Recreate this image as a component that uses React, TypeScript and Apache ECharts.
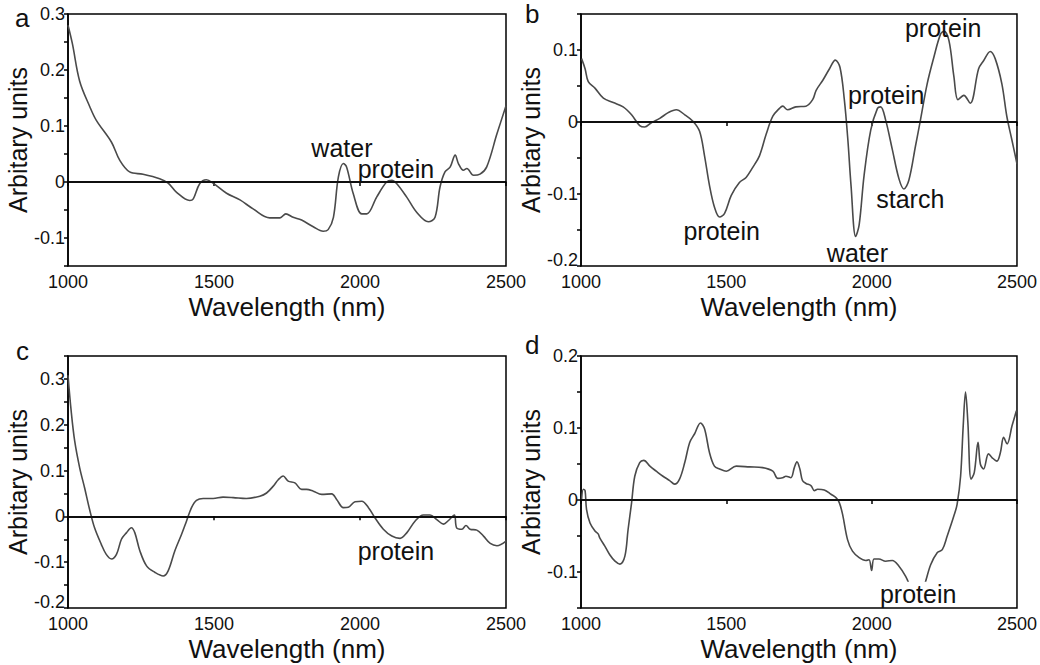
import React, { useEffect, useRef } from "react";
import * as echarts from "echarts";

// ---- Data (wavelength nm, arbitrary units) ----
const waveA = [1000, 1015, 1040, 1075, 1097, 1149, 1177, 1211, 1257, 1314, 1343, 1371, 1417, 1429, 1451, 1474, 1497, 1543, 1589, 1634, 1691, 1726, 1746, 1771, 1800, 1840, 1874, 1891, 1909, 1926, 1943, 1954, 1977, 2006, 2023, 2057, 2091, 2109, 2126, 2160, 2194, 2234, 2257, 2274, 2291, 2309, 2326, 2337, 2354, 2366, 2389, 2411, 2434, 2469, 2500];
const valA = [0.28, 0.247, 0.18, 0.134, 0.11, 0.071, 0.039, 0.018, 0.014, 0.006, -0.002, -0.018, -0.033, -0.03, -0.003, 0.004, -0.002, -0.02, -0.032, -0.048, -0.064, -0.064, -0.057, -0.063, -0.068, -0.08, -0.088, -0.085, -0.063, 0.009, 0.033, 0.027, -0.021, -0.057, -0.057, -0.027, 0, 0.003, -0.003, -0.027, -0.054, -0.071, -0.063, -0.009, 0.018, 0.027, 0.048, 0.033, 0.021, 0.024, 0.012, 0.014, 0.027, 0.086, 0.136];

const waveB = [1002, 1014, 1025, 1048, 1077, 1111, 1145, 1174, 1202, 1219, 1242, 1271, 1300, 1328, 1357, 1385, 1408, 1425, 1442, 1459, 1477, 1494, 1517, 1545, 1568, 1591, 1614, 1637, 1660, 1683, 1694, 1711, 1739, 1774, 1797, 1809, 1832, 1855, 1875, 1891, 1906, 1918, 1929, 1945, 1957, 1974, 1997, 2020, 2031, 2048, 2071, 2094, 2111, 2128, 2151, 2168, 2191, 2214, 2237, 2249, 2266, 2283, 2297, 2317, 2339, 2368, 2385, 2408, 2425, 2448, 2465, 2482, 2500];
const valB = [0.088, 0.074, 0.056, 0.047, 0.033, 0.027, 0.021, 0.01, -0.005, -0.007, -0.001, 0.005, 0.013, 0.017, 0.01, 0.001, -0.013, -0.047, -0.088, -0.118, -0.132, -0.127, -0.102, -0.084, -0.077, -0.063, -0.047, -0.017, 0.008, 0.019, 0.022, 0.017, 0.021, 0.022, 0.031, 0.044, 0.058, 0.074, 0.086, 0.076, 0.031, -0.024, -0.088, -0.159, -0.143, -0.074, -0.011, 0.019, 0.021, 0.003, -0.038, -0.079, -0.093, -0.081, -0.033, 0.003, 0.053, 0.09, 0.122, 0.126, 0.113, 0.063, 0.031, 0.037, 0.026, 0.074, 0.085, 0.098, 0.088, 0.053, 0.008, -0.024, -0.058];

const waveC = [1000, 1011, 1023, 1040, 1057, 1074, 1091, 1114, 1131, 1149, 1166, 1183, 1200, 1217, 1229, 1246, 1269, 1297, 1326, 1343, 1366, 1389, 1406, 1423, 1440, 1463, 1497, 1531, 1566, 1611, 1657, 1680, 1703, 1720, 1737, 1754, 1777, 1800, 1817, 1840, 1869, 1903, 1920, 1943, 1960, 1983, 2006, 2029, 2051, 2080, 2109, 2137, 2160, 2189, 2217, 2240, 2263, 2286, 2303, 2323, 2331, 2349, 2363, 2377, 2400, 2423, 2446, 2469, 2500];
const valC = [0.308, 0.229, 0.164, 0.106, 0.062, 0.015, -0.025, -0.061, -0.083, -0.093, -0.083, -0.05, -0.036, -0.025, -0.036, -0.075, -0.108, -0.122, -0.13, -0.119, -0.075, -0.039, -0.01, 0.019, 0.035, 0.039, 0.039, 0.042, 0.041, 0.039, 0.044, 0.051, 0.066, 0.08, 0.088, 0.077, 0.073, 0.059, 0.059, 0.055, 0.048, 0.049, 0.037, 0.019, 0.02, 0.032, 0.033, 0.019, -0.003, -0.028, -0.043, -0.048, -0.036, -0.01, 0.003, 0.003, -0.007, -0.017, -0.009, 0.003, -0.025, -0.028, -0.02, -0.028, -0.03, -0.043, -0.059, -0.064, -0.054];

const waveD = [1002, 1008, 1014, 1019, 1031, 1048, 1059, 1065, 1082, 1099, 1117, 1134, 1151, 1162, 1174, 1185, 1202, 1216, 1237, 1259, 1282, 1305, 1322, 1339, 1357, 1374, 1391, 1411, 1425, 1442, 1459, 1477, 1500, 1534, 1580, 1625, 1660, 1677, 1694, 1705, 1722, 1734, 1743, 1753, 1762, 1774, 1791, 1803, 1814, 1837, 1860, 1878, 1889, 1900, 1917, 1934, 1957, 1980, 1991, 2000, 2008, 2025, 2048, 2071, 2094, 2117, 2140, 2163, 2180, 2203, 2226, 2243, 2260, 2283, 2294, 2306, 2315, 2323, 2331, 2342, 2353, 2366, 2374, 2385, 2402, 2414, 2431, 2443, 2454, 2466, 2483, 2498];
const valD = [0.001, 0.015, 0.013, -0.013, -0.032, -0.043, -0.047, -0.053, -0.064, -0.076, -0.085, -0.089, -0.078, -0.041, -0.004, 0.033, 0.052, 0.055, 0.047, 0.04, 0.033, 0.027, 0.022, 0.029, 0.052, 0.08, 0.092, 0.107, 0.099, 0.066, 0.047, 0.043, 0.04, 0.047, 0.046, 0.045, 0.04, 0.03, 0.031, 0.033, 0.031, 0.045, 0.053, 0.043, 0.027, 0.023, 0.02, 0.013, 0.015, 0.014, 0.008, 0.003, -0.004, -0.02, -0.055, -0.071, -0.08, -0.084, -0.083, -0.098, -0.082, -0.082, -0.085, -0.084, -0.092, -0.106, -0.125, -0.132, -0.12, -0.09, -0.073, -0.069, -0.05, -0.022, -0.006, 0.033, 0.103, 0.15, 0.108, 0.029, 0.038, 0.08, 0.05, 0.043, 0.064, 0.059, 0.054, 0.066, 0.087, 0.078, 0.103, 0.124];

// y-axis ranges per panel
const yMin = [-0.15, -0.2, -0.2, -0.15];
const yMax = [0.3, 0.15, 0.35, 0.2];

// annotations: [wavelength, value, text]
const notesA: [number, number, string][] = [[1938, 0.061, "water"], [2123, 0.023, "protein"]];
const notesB: [number, number, string][] = [[2246, 0.13, "protein"], [2050, 0.038, "protein"], [2133, -0.107, "starch"], [1484, -0.152, "protein"], [1951, -0.182, "water"]];
const notesC: [number, number, string][] = [[2123, -0.076, "protein"]];
const notesD: [number, number, string][] = [[2160, -0.131, "protein"]];

const panelLetters = ["a", "b", "c", "d"];

const FONT = "'Liberation Sans', Arial, Helvetica, sans-serif";

export default function App() {
  const ref = useRef<HTMLDivElement>(null);
  useEffect(() => {
    document.body.style.margin = "0";
    if (!ref.current) return;
    const chart = echarts.init(ref.current, null, { renderer: "svg" });
    const waves = [waveA, waveB, waveC, waveD];
    const vals = [valA, valB, valC, valD];
    const notes = [notesA, notesB, notesC, notesD];
    const grids = [
      { left: 68, top: 14, width: 438, height: 252 },
      { left: 581, top: 14, width: 437, height: 252 },
      { left: 68, top: 356, width: 438, height: 252 },
      { left: 581, top: 356, width: 437, height: 252 },
    ];
    const letterPos = [[22, 20], [532, 16], [23, 353], [532, 347]];

    const option: any = {
      animation: false,
      textStyle: { fontFamily: FONT },
      grid: grids.map((g) => ({ ...g, show: true, borderColor: "#000", borderWidth: 1.5, containLabel: false })),
      xAxis: grids.map((_, i) => ({
        type: "value",
        gridIndex: i,
        min: 1000,
        max: 2500,
        interval: 500,
        name: "Wavelength (nm)",
        nameLocation: "middle",
        nameGap: 28,
        nameTextStyle: { fontSize: 26, color: "#111", fontFamily: FONT },
        axisLine: { show: true, lineStyle: { color: "#000", width: 1.5 } },
        axisTick: { show: true, inside: false, length: 4, lineStyle: { color: "#000", width: 1.5 } },
        axisLabel: { fontSize: 18, lineHeight: 16, color: "#111", margin: 8, fontFamily: FONT, formatter: (v: number) => String(v) },
        splitLine: { show: false },
      })),
      yAxis: grids.map((_, i) => ({
        type: "value",
        gridIndex: i,
        min: yMin[i],
        max: yMax[i],
        interval: 0.05,
        name: "Arbitary units",
        nameLocation: "middle",
        nameRotate: 90,
        nameGap: 34,
        nameTextStyle: { fontSize: 25, color: "#111", fontFamily: FONT },
        axisLine: { show: true, lineStyle: { color: "#000", width: 1.5 } },
        axisTick: { show: true, inside: false, length: 4, lineStyle: { color: "#000", width: 1.5 } },
        axisLabel: {
          fontSize: 18,
          lineHeight: 14,
          color: "#111",
          margin: 3,
          fontFamily: FONT,
          rich: {
            lo: { fontSize: 18, lineHeight: 14, color: "#111", fontFamily: FONT, padding: [0, 0, 12, 0] },
          },
          formatter: (v: number) => {
            const r = Math.round(v * 100);
            if (r % 10 !== 0) return "";
            const t = String(Math.round(v * 10) / 10);
            if (Math.abs(v - yMin[i]) < 1e-9) return "{lo|" + t + "}";
            return t;
          },
        },
        splitLine: { show: false },
      })),
      series: waves.map((w, i) => ({
        type: "line",
        xAxisIndex: i,
        yAxisIndex: i,
        data: w.map((x, k) => [x, vals[i][k]]),
        showSymbol: false,
        symbol: "none",
        smooth: 0.35,
        lineStyle: { color: "#4a4a4a", width: 1.6 },
        silent: true,
        markLine: {
          silent: true,
          symbol: ["none", "none"],
          label: { show: false },
          lineStyle: { color: "#000", width: 1.5, type: "solid" },
          data: [{ yAxis: 0 }],
        },
        markPoint: {
          silent: true,
          symbol: "circle",
          symbolSize: 1,
          itemStyle: { color: "rgba(0,0,0,0)" },
          label: {
            show: true,
            position: "inside",
            fontSize: 25,
            color: "#111",
            fontFamily: FONT,
            backgroundColor: i === 3 ? "#fff" : "transparent",
            formatter: (p: any) => p.name,
          },
          data: notes[i].map(([x, y, t]) => ({ name: t, coord: [x, y] })),
        },
      })),
      graphic: panelLetters.map((l, i) => ({
        type: "text",
        left: letterPos[i][0] - 7,
        top: letterPos[i][1] - 15,
        style: { text: l, fontSize: 26, fill: "#111", fontFamily: FONT },
      })),
    };
    chart.setOption(option);
    return () => chart.dispose();
  }, []);
  return <div ref={ref} style={{ width: 1040, height: 665 }} />;
}
